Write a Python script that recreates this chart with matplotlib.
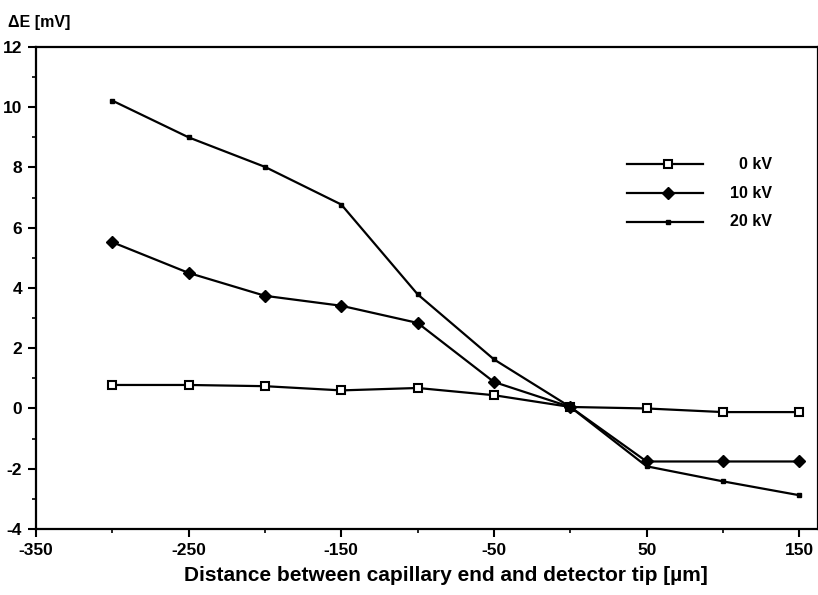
import matplotlib
matplotlib.use("Agg")
import matplotlib.pyplot as plt
from matplotlib.ticker import MultipleLocator

plt.rcParams['font.family'] = ['Liberation Sans', 'DejaVu Sans']
plt.rcParams['axes.unicode_minus'] = False

# Distance between capillary end and detector tip (µm)
distance = [-300, -250, -200, -150, -100, -50, 0, 50, 100, 150]

# Potential change ΔE (mV) for each applied voltage
dE_0kV = [0.78, 0.78, 0.74, 0.60, 0.68, 0.44, 0.05, 0.00, -0.12, -0.12]
dE_10kV = [5.52, 4.50, 3.74, 3.41, 2.84, 0.88, 0.05, -1.76, -1.76, -1.76]
dE_20kV = [10.22, 9.00, 8.02, 6.77, 3.79, 1.63, 0.05, -1.92, -2.42, -2.88]

series_labels = ["0 kV", "10 kV", "20 kV"]

fig = plt.figure(figsize=(8.18, 5.95), dpi=100)
ax = fig.add_axes([0.044, 0.111, 0.9555, 0.81])

styles = [
    dict(marker='s', markersize=5.5, markerfacecolor='white', markeredgecolor='black', markeredgewidth=1.5),
    dict(marker='D', markersize=6, markerfacecolor='black', markeredgecolor='black'),
    dict(marker='s', markersize=3.5, markerfacecolor='black', markeredgecolor='black'),
]

for ys, st in zip([dE_0kV, dE_10kV, dE_20kV], styles):
    ax.plot(distance, ys, color='black', linewidth=1.6, **st)

ax.set_xlim(-350, 162)
ax.set_ylim(-4, 12)
ax.yaxis.set_major_locator(MultipleLocator(2))
ax.yaxis.set_minor_locator(MultipleLocator(1))
ax.set_xticks([-350, -250, -150, -50, 50, 150])
ax.set_xticks([-300, -200, -100, 0, 100], minor=True)

ax.tick_params(axis='both', which='major', direction='out', length=6, width=1.5,
               labelsize=12.5, pad=4)
ax.tick_params(axis='both', which='minor', direction='out', length=3, width=1.2)
for lab in ax.get_xticklabels() + ax.get_yticklabels():
    lab.set_fontweight('bold')

for sp in ax.spines.values():
    sp.set_linewidth(1.6)

ax.set_xlabel("Distance between capillary end and detector tip [µm]", fontsize=15,
              fontweight='bold')
ax.xaxis.set_label_coords(0.524, -0.077)
fig.text(0.010, 0.962, "ΔE [mV]", fontsize=11.5, fontweight='bold', ha='left', va='center')

# Legend drawn in axes coordinates with right-aligned labels
leg_y = [0.757, 0.697, 0.637]
for yy, st, lab in zip(leg_y, styles, series_labels):
    ax.plot([0.756, 0.853], [yy, yy], transform=ax.transAxes, color='black', linewidth=1.6)
    ax.plot([0.808], [yy], transform=ax.transAxes, color='black', linestyle='none', **st)
    ax.text(0.942, yy, lab, transform=ax.transAxes, ha='right', va='center',
            fontsize=11.5, fontweight='bold')

fig.savefig("out.png", dpi=100)
